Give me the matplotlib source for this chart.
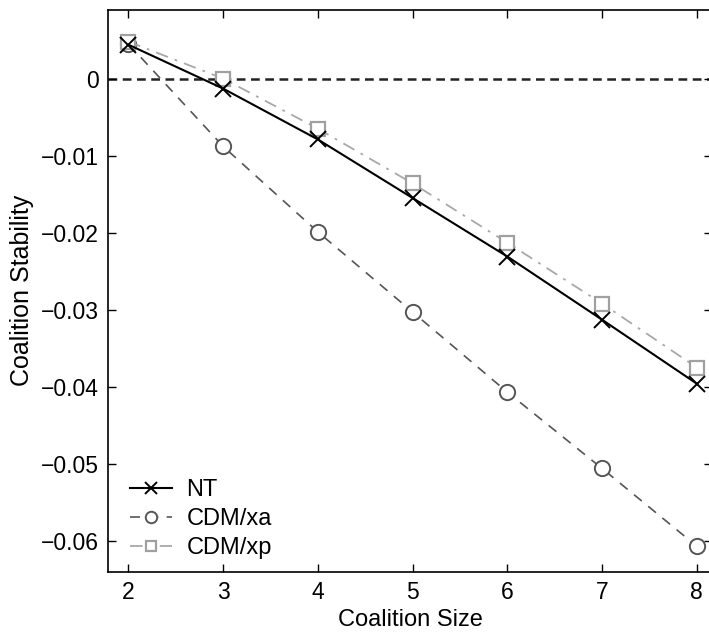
import matplotlib
matplotlib.use("Agg")
import matplotlib.pyplot as plt

plt.rcParams['font.family'] = ['Liberation Sans', 'DejaVu Sans']

sizes = [2, 3, 4, 5, 6, 7, 8]
nt = [0.0044, -0.0013, -0.0079, -0.0155, -0.0231, -0.0313, -0.0396]
cdm_xa = [0.0045, -0.0088, -0.0199, -0.0303, -0.0407, -0.0506, -0.0607]
cdm_xp = [0.0048, 0.0000, -0.0065, -0.0136, -0.0213, -0.0292, -0.0375]
yticks = [0, -0.01, -0.02, -0.03, -0.04, -0.05, -0.06]
ytick_labels = ['0', '\u22120.01', '\u22120.02', '\u22120.03', '\u22120.04', '\u22120.05', '\u22120.06']
xticks = [2, 3, 4, 5, 6, 7, 8]

W, H = 709, 634
fig = plt.figure(figsize=(W / 100, H / 100), dpi=100)
left, right, top, bottom = 108.3, 712.0, 10.0, 571.7
ax = fig.add_axes([left / W, 1 - bottom / H, (right - left) / W, (bottom - top) / H])

ax.axhline(0, color='#222222', linestyle=(0, (3.5, 2.2)), linewidth=1.8, zorder=1)

ax.plot(sizes, nt, color='black', linestyle='-', linewidth=1.5, marker='x',
        markersize=11, markeredgewidth=1.4, label='NT', zorder=3)
ax.plot(sizes, cdm_xa, color='#555555', linestyle=(0, (6, 5)), linewidth=1.2, marker='o',
        markersize=11, markerfacecolor='white', markeredgecolor='#555555',
        markeredgewidth=1.4, label='CDM/xa', zorder=2)
ax.plot(sizes, cdm_xp, color='#a8a8a8', linestyle=(0, (7, 4, 1.5, 4)), linewidth=1.3, marker='s',
        markersize=10, markerfacecolor='white', markeredgecolor='#a0a0a0',
        markeredgewidth=1.6, label='CDM/xp', zorder=2)

ax.set_xlim(1.788, 8.16)
ax.set_ylim(-0.0640, 0.0089)
ax.set_xticks(xticks)
ax.set_yticks(yticks)
ax.set_yticklabels(ytick_labels)
ax.tick_params(direction='in', length=6, width=1, labelsize=16.5, top=True, right=True, pad=7)
for s in ax.spines.values():
    s.set_linewidth(1.2)

ax.set_xlabel('Coalition Size', fontsize=17, labelpad=3)
ax.set_ylabel('Coalition Stability', fontsize=18, labelpad=5)

ax.legend(loc='lower left', frameon=False, fontsize=17, handlelength=1.8,
          handletextpad=0.6, labelspacing=0.3, borderaxespad=0.0,
          markerscale=0.75, bbox_to_anchor=(0.02, 0.005))

fig.savefig('out.png', dpi=100)
